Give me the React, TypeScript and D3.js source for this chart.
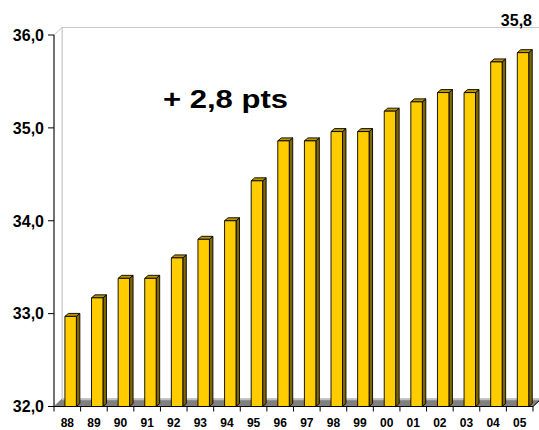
import React from "react";
import * as d3 from "d3";

const categories = ["88","89","90","91","92","93","94","95","96","97","98","99","00","01","02","03","04","05"];
const values = [32.97,33.17,33.38,33.38,33.6,33.8,34.0,34.43,34.86,34.86,34.96,34.96,35.18,35.28,35.38,35.38,35.71,35.81];
const yTicks = [32,33,34,35,36];
const lastLabel = "35,8";
const annotation = "+ 2,8 pts";

const W = 539, H = 430;
const X0 = 54, X1 = 533, Y0 = 406.5, YT = 35;
const DX = 8, DY = -7.5;
const BDX = 3.5, BDY = -3;

export default function App() {
  const x = d3.scaleBand<string>().domain(categories).range([X0, X1]).padding(0);
  const y = d3.scaleLinear().domain([32, 36]).range([Y0, YT]);
  const bw = x.bandwidth();
  const fmt = (v: number) => d3.format(".1f")(v).replace(".", ",");
  const font = "'Liberation Sans', Arial, sans-serif";

  const boundaries = categories.map((c) => x(c)!).concat([X1]);

  return (
    <div style={{ position: "fixed", left: 0, top: 0 }}>
      <svg width={W} height={H} style={{ display: "block", background: "#fff" }}>
        {/* back wall */}
        <rect x={X0 + DX} y={YT + DY} width={W} height={Y0 - YT} fill="none" stroke="#c8c8c8" strokeWidth={1} />
        {/* left wall */}
        <path d={`M${X0},${YT} L${X0 + DX},${YT + DY} L${X0 + DX},${Y0 + DY} L${X0},${Y0} Z`} fill="#fff" stroke="#c8c8c8" strokeWidth={1} />
        {/* floor */}
        <path d={`M${X0},${Y0} L${X0 + DX},${Y0 + DY} L${X1 + DX},${Y0 + DY} L${X1},${Y0} Z`} fill="#808080" stroke="#808080" strokeWidth={0.5} />
        <line x1={X0 + DX} x2={X1 + DX} y1={Y0 + DY + 0.5} y2={Y0 + DY + 0.5} stroke="#c0c0c0" strokeWidth={1.5} />
        <line x1={X1} y1={Y0} x2={X1 + DX} y2={Y0 + DY} stroke="#000" strokeWidth={1} />

        {/* bars */}
        {categories.map((c, i) => {
          const bx = x(c)! + bw * 0.41;
          const bwid = bw * 0.43;
          const top = y(values[i]);
          return (
            <g key={c} stroke="#000" strokeWidth={0.9} strokeLinejoin="round">
              <path d={`M${bx + bwid},${top} L${bx + bwid + BDX},${top + BDY} L${bx + bwid + BDX},${Y0 + BDY} L${bx + bwid},${Y0} Z`} fill="#806600" />
              <path d={`M${bx},${top} L${bx + BDX},${top + BDY} L${bx + bwid + BDX},${top + BDY} L${bx + bwid},${top} Z`} fill="#b89400" />
              <rect x={bx} y={top} width={bwid} height={Y0 - top} fill="#FFCC00" />
            </g>
          );
        })}

        {/* axes */}
        <line x1={X0} x2={X0} y1={YT} y2={Y0} stroke="#000" strokeWidth={1} />
        <line x1={X0} x2={X1} y1={Y0} y2={Y0} stroke="#000" strokeWidth={1} />
        {yTicks.map((t) => (
          <g key={t}>
            <line x1={X0 - 6} x2={X0} y1={y(t)} y2={y(t)} stroke="#000" strokeWidth={1} />
            <text x={44} y={y(t)} dy="0.36em" textAnchor="end" fontFamily={font} fontWeight="bold" fontSize={16} fill="#000">
              {fmt(t)}
            </text>
          </g>
        ))}
        {boundaries.map((b, i) => (
          <line key={i} x1={b} x2={b} y1={Y0} y2={Y0 + 5} stroke="#000" strokeWidth={1} />
        ))}
        {categories.map((c) => (
          <text key={c} x={x(c)! + bw / 2} y={427} textAnchor="middle" fontFamily={font} fontWeight="bold" fontSize={12} fill="#000">
            {c}
          </text>
        ))}

        <text x={532} y={25.5} textAnchor="end" fontFamily={font} fontWeight="bold" fontSize={16} fill="#000">
          {lastLabel}
        </text>
        <text x={163} y={108} fontFamily={font} fontWeight="bold" fontSize={25} textLength={125} lengthAdjust="spacingAndGlyphs" fill="#000">
          {annotation}
        </text>
      </svg>
    </div>
  );
}
